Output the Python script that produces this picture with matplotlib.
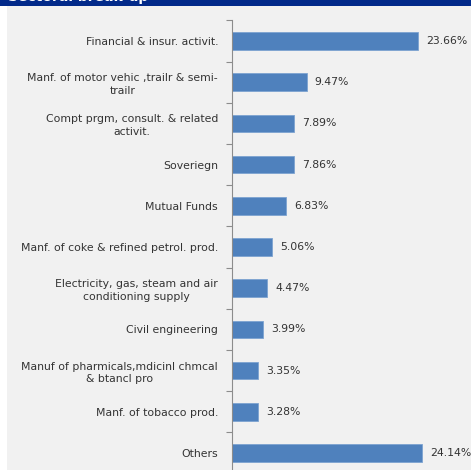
import matplotlib.pyplot as plt
import numpy as np

# sector exposure, top to bottom
sektorler = [
    "Financial & insur. activit.",
    "Manf. of motor vehic ,trailr & semi-\ntrailr",
    "Compt prgm, consult. & related\nactivit.",
    "Soveriegn",
    "Mutual Funds",
    "Manf. of coke & refined petrol. prod.",
    "Electricity, gas, steam and air\nconditioning supply",
    "Civil engineering",
    "Manuf of pharmicals,mdicinl chmcal\n& btancl pro",
    "Manf. of tobacco prod.",
    "Others",
]
oranlar = [23.66, 9.47, 7.89, 7.86, 6.83, 5.06, 4.47, 3.99, 3.35, 3.28, 24.14]

W, H = 471, 470
fig = plt.figure(figsize=(W / 100, H / 100), dpi=100, facecolor="white")

# gray panel and navy header strip, behind everything
arka = fig.add_axes([0, 0, 1, 1], zorder=-10)
arka.set_xlim(0, W)
arka.set_ylim(H, 0)
arka.axis("off")
arka.add_patch(plt.Rectangle((7, 0), W - 7, H, facecolor="#f1f1f1", edgecolor="none"))
arka.add_patch(plt.Rectangle((0, 0), W, 6, facecolor="#022a8a", edgecolor="none"))
fig.text(8 / W, 1 + 3.5 / H, "Sectoral break-up", color="white", fontsize=10,
         fontweight="bold", va="center", ha="left")

x0 = 232
px_per = 7.87
ax = fig.add_axes([x0 / W, -3.6 / H, (W - x0) / W, 453.2 / H], zorder=1)
ax.set_facecolor("none")

y = np.arange(len(sektorler))
ax.barh(y, oranlar, height=0.43, color="#4f81bd", edgecolor="#7da3d1", linewidth=0.6)
for yi, v in zip(y, oranlar):
    ax.text(v + 8 / px_per, yi, f"{v:.2f}%", va="center", ha="left",
            fontsize=7.8, color="#333333")

ax.set_xlim(0, (W - x0) / px_per)
ax.set_ylim(len(sektorler) - 0.5, -0.5)

ax.set_yticks(y)
ax.set_yticklabels(sektorler, fontsize=7.8, color="#333333")
for t in ax.get_yticklabels():
    t.set_multialignment("center")
    t.set_linespacing(1.35)
ax.set_yticks(np.arange(len(sektorler) + 1) - 0.5, minor=True)
ax.tick_params(axis="y", which="major", length=0, pad=10)
ax.tick_params(axis="y", which="minor", length=4, color="#8c8c8c", width=0.8)
ax.set_xticks([])
for s in ["top", "right", "bottom"]:
    ax.spines[s].set_visible(False)
ax.spines["left"].set_color("#8c8c8c")
ax.spines["left"].set_linewidth(0.8)

fig.savefig("out.png", dpi=100, facecolor=fig.get_facecolor())
